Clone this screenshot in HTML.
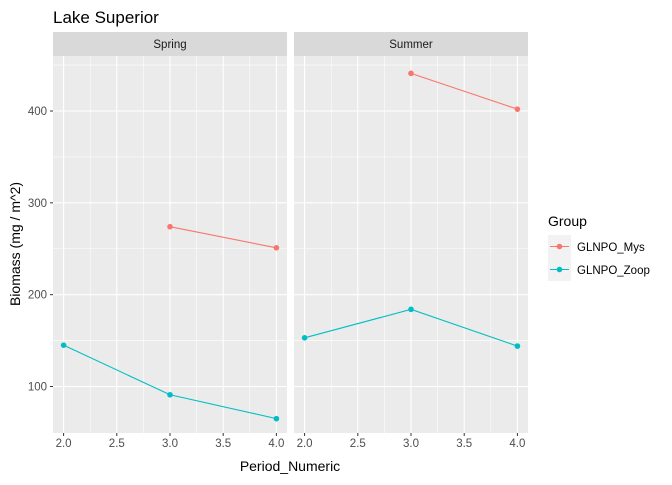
<!DOCTYPE html><html><head><meta charset="utf-8"><style>body{margin:0;background:#fff}svg{font-family:"Liberation Sans",Arial,sans-serif}</style></head><body>
<svg id="c" width="672" height="480"></svg>
<script>
const facets=["Spring","Summer"];
const xTicks=[2.0,2.5,3.0,3.5,4.0];
const yTicks=[100,200,300,400];
const seriesNames=["GLNPO_Mys","GLNPO_Zoop"];
const colors=["#F8766D","#00BFC4"];
const springMysX=[3,4], springMysY=[274,251];
const springZoopX=[2,3,4], springZoopY=[145,91,65];
const summerMysX=[3,4], summerMysY=[441,402];
const summerZoopX=[2,3,4], summerZoopY=[153,184,144];
const data=[[[springMysX,springMysY],[springZoopX,springZoopY]],[[summerMysX,summerMysY],[summerZoopX,summerZoopY]]];
const NS="http://www.w3.org/2000/svg",svg=document.getElementById('c');
function mk(t,a,p){const e=document.createElementNS(NS,t);for(const k in a)e.setAttribute(k,a[k]);(p||svg).appendChild(e);return e;}
const panels=[53,294],pw=234,pTop=56,pBot=433;
const ys=v=>386.5-(v-100)*(275.5/300);
function xs(p,v){return panels[p]+10.6+(v-2)*106.4;}
let t=mk('text',{x:53,y:23,'font-size':17,fill:'#000'});t.textContent="Lake Superior";

facets.forEach((f,p)=>{
 const g=mk('g',{});
 
 
 mk('rect',{x:panels[p],y:32,width:pw,height:24,fill:'#D9D9D9'},g);
 const st=mk('text',{x:panels[p]+pw/2,y:48,'text-anchor':'middle','font-size':11.5,fill:'#1A1A1A'},g);st.textContent=f;
 
 mk('rect',{x:panels[p],y:pTop,width:pw,height:pBot-pTop,fill:'#EBEBEB'},g);
 for(let i=0;i<yTicks.length;i++){mk('line',{x1:panels[p],x2:panels[p]+pw,y1:ys(yTicks[i]+50),y2:ys(yTicks[i]+50),stroke:'#fff','stroke-width':0.55},g);}
 for(let i=0;i<xTicks.length-1;i++){const m=(xTicks[i]+xTicks[i+1])/2;mk('line',{x1:xs(p,m),x2:xs(p,m),y1:pTop,y2:pBot,stroke:'#fff','stroke-width':0.55},g);}
 yTicks.forEach(v=>mk('line',{x1:panels[p],x2:panels[p]+pw,y1:ys(v),y2:ys(v),stroke:'#fff','stroke-width':1.1},g));
 xTicks.forEach(v=>{mk('line',{x1:xs(p,v),x2:xs(p,v),y1:pTop,y2:pBot,stroke:'#fff','stroke-width':1.1},g);
  mk('line',{x1:xs(p,v),x2:xs(p,v),y1:pBot,y2:pBot+3,stroke:'#333'},g);
  const tl=mk('text',{x:xs(p,v),y:pBot+14,'text-anchor':'middle','font-size':11.5,fill:'#4D4D4D'},g);tl.textContent=v.toFixed(1);
  });
 data[p].forEach((s,si)=>{
  const pts=s[0].map((x,i)=>xs(p,x)+','+ys(s[1][i])).join(' ');
  const pl=mk('polyline',{points:pts,fill:'none',stroke:colors[si],'stroke-width':1.1},g);
  
  s[0].forEach((x,i)=>{const c=mk('circle',{cx:xs(p,x),cy:ys(s[1][i]),r:2.8,fill:colors[si]},g);
   });
 });
});
yTicks.forEach(v=>{mk('line',{x1:50,x2:53,y1:ys(v),y2:ys(v),stroke:'#333'});
 const tl=mk('text',{x:47,y:ys(v)+4,'text-anchor':'end','font-size':11.5,fill:'#4D4D4D'});tl.textContent=v;
 });
t=mk('text',{x:290,y:471,'text-anchor':'middle','font-size':14,fill:'#000'});t.textContent="Period_Numeric";

t=mk('text',{x:0,y:0,transform:'translate(20,244) rotate(-90)','text-anchor':'middle','font-size':14,fill:'#000'});t.textContent="Biomass (mg / m^2)";

t=mk('text',{x:548,y:226,'font-size':14,fill:'#000'});t.textContent="Group";

seriesNames.forEach((n,i)=>{const y=235+i*23;const g=mk('g',{});
 
 mk('rect',{x:548,y:y,width:23,height:23,fill:'#F2F2F2'},g);
 mk('line',{x1:550,x2:569,y1:y+11.5,y2:y+11.5,stroke:colors[i],'stroke-width':1.1},g);
 mk('circle',{cx:559.5,cy:y+11.5,r:2.8,fill:colors[i]},g);
 const tx=mk('text',{x:577,y:y+16,'font-size':11.5,fill:'#000'},g);tx.textContent=n;});
</script></body></html>
